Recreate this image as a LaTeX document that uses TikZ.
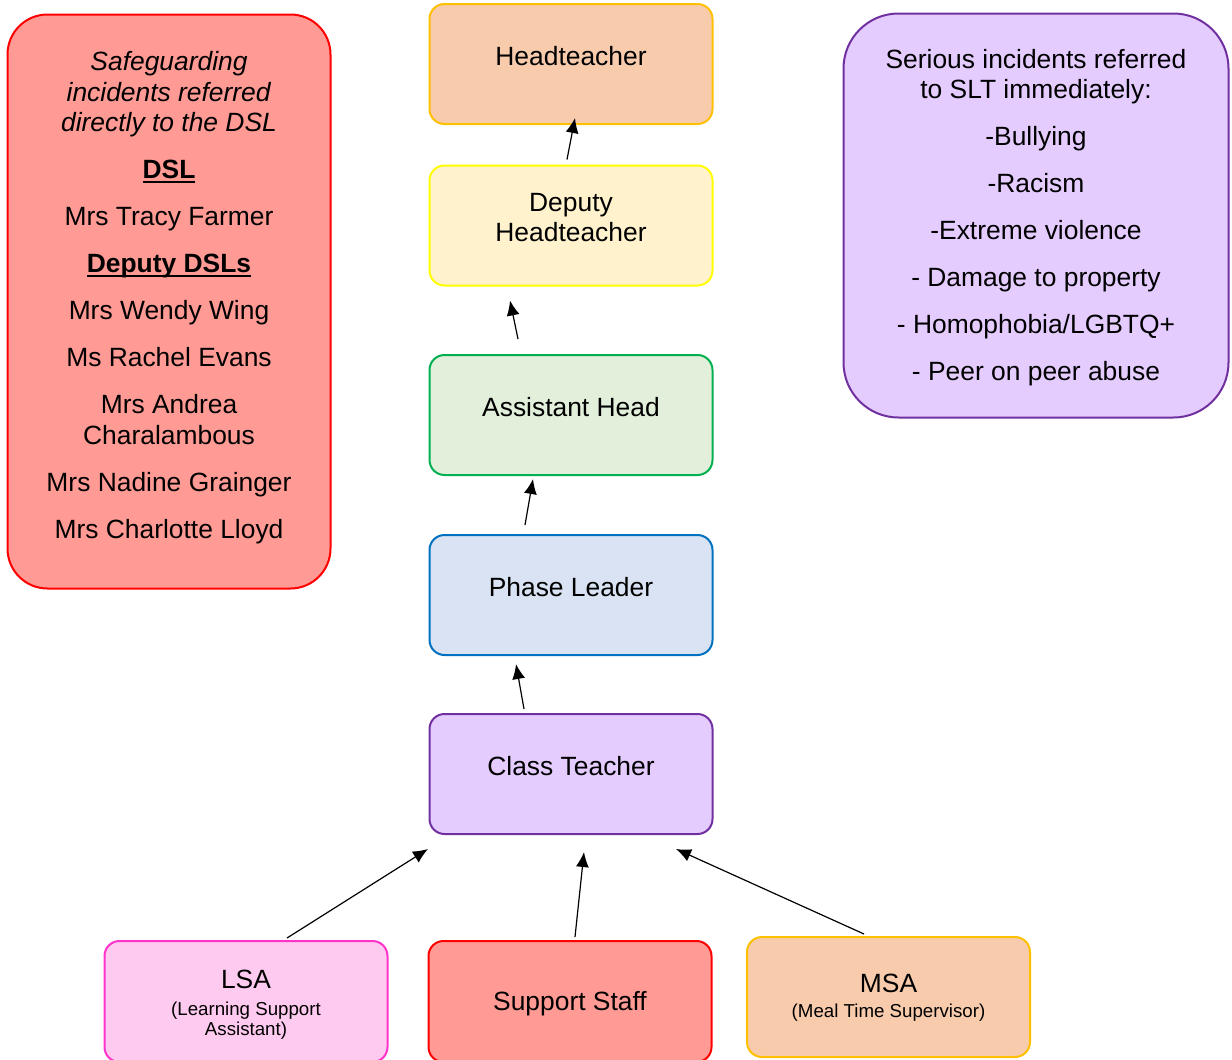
\documentclass[tikz,border=0pt]{standalone}
\usepackage{fontspec}
\setmainfont{Liberation Sans}
\usetikzlibrary{arrows.meta}
\definecolor{headfill}{HTML}{F8CBAD}
\definecolor{headline}{HTML}{FFC000}
\definecolor{depfill}{HTML}{FFF2CC}
\definecolor{depline}{HTML}{FFFF00}
\definecolor{asstfill}{HTML}{E2EFDA}
\definecolor{asstline}{HTML}{00B050}
\definecolor{phasefill}{HTML}{DAE3F3}
\definecolor{phaseline}{HTML}{0070C0}
\definecolor{lilacfill}{HTML}{E5CCFF}
\definecolor{lilacline}{HTML}{7030A0}
\definecolor{redfill}{HTML}{FF9B94}
\definecolor{redline}{HTML}{FF0000}
\definecolor{pinkfill}{HTML}{FFCAF0}
\definecolor{pinkline}{HTML}{FF33CC}
\newcommand{\ulhead}[1]{\setbox0\hbox{\textbf{#1}}\rlap{\rule[-4.5pt]{\wd0}{2pt}}\box0}

\begin{document}
\begin{tikzpicture}[x=1pt, y=-1pt,
    role/.style={rounded corners=15pt, line width=2pt, minimum width=283pt,
      minimum height=120pt, inner sep=0pt, align=center,
      font=\fontsize{26.4}{30.5}\selectfont},
    rolelbl/.style={font=\fontsize{26.4}{30.5}\selectfont, align=center, inner sep=0pt},
    panel/.style={rounded corners=#1, line width=2pt, inner sep=0pt},
    smalltxt/.style={font=\fontsize{18.7}{20}\selectfont},
    flow/.style={-{Latex[length=15pt,width=13pt]}, line width=1.2pt},
  ]
  \useasboundingbox (0,0) rectangle (1232,1060);

  % side panels
  \node[panel=40pt, draw=redline, fill=redfill, minimum width=323pt,
    minimum height=574pt] (dsl) at (169,301.5) {};
  \node[rolelbl] (dsltxt) at ([yshift=4pt]dsl.center)
    {\textit{Safeguarding}\\ \textit{incidents referred}\\ \textit{directly to the DSL}\\[16.5pt]
     \ulhead{DSL}\\[16.5pt]
     Mrs Tracy Farmer\\[16.5pt]
     \ulhead{Deputy DSLs}\\[16.5pt]
     Mrs Wendy Wing\\[16.5pt]
     Ms Rachel Evans\\[16.5pt]
     Mrs Andrea\\ Charalambous\\[16.5pt]
     Mrs Nadine Grainger\\[16.5pt]
     Mrs Charlotte Lloyd};

  \node[panel=55pt, draw=lilacline, fill=lilacfill, minimum width=385pt,
    minimum height=404pt] (slt) at (1036,215.5) {};
  \node[rolelbl] (slttxt) at ([yshift=-2pt]slt.center)
    {Serious incidents referred\\ to SLT immediately:\\[16.5pt]
     -Bullying\\[16.5pt]
     -Racism\\[16.5pt]
     -Extreme violence\\[16.5pt]
     - Damage to property\\[16.5pt]
     - Homophobia/LGBTQ+\\[16.5pt]
     - Peer on peer abuse};

  % chain of referral
  \node[role, draw=headline, fill=headfill] (head) at (571,64) {};
  \node[rolelbl] (headtxt) at ([yshift=8pt]head.center) {Headteacher};
  \node[role, draw=depline, fill=depfill] (dep) at (571,225.5) {};
  \node[rolelbl] (deptxt) at ([yshift=8pt]dep.center) {Deputy\\ Headteacher};
  \node[role, draw=asstline, fill=asstfill] (asst) at (571,415) {};
  \node[rolelbl] (assttxt) at ([yshift=8pt]asst.center) {Assistant Head};
  \node[role, draw=phaseline, fill=phasefill] (phase) at (571,595) {};
  \node[rolelbl] (phasetxt) at ([yshift=8pt]phase.center) {Phase Leader};
  \node[role, draw=lilacline, fill=lilacfill] (cls) at (571,774) {};
  \node[rolelbl] (clstxt) at ([yshift=8pt]cls.center) {Class Teacher};

  % staff
  \node[role, smalltxt, draw=pinkline, fill=pinkfill, minimum height=121pt] (lsa) at (246,1001.5) {};
  \node[rolelbl, smalltxt] (lsatxt) at ([yshift=-3pt]lsa.center)
    {{\fontsize{26.4}{30}\selectfont LSA}\\[7pt] (Learning Support\\ Assistant)};
  \node[role, draw=redline, fill=redfill, minimum height=121pt] (sup) at (570,1001.5) {};
  \node[rolelbl] (suptxt) at ([yshift=-2pt]sup.center) {Support Staff};
  \node[role, draw=headline, fill=headfill] (msa) at (888.5,997) {};
  \node[rolelbl, smalltxt] (msatxt) at ([yshift=-1pt]msa.center)
    {{\fontsize{26.4}{30}\selectfont MSA}\\[5pt] (Meal Time Supervisor)};

  \draw[flow] ([shift={(-4,-5)}]dep.north) -- ([shift={(4,-7)}]head.south);
  \draw[flow] ([shift={(-53,-15)}]asst.north) -- ([shift={(-61,14)}]dep.south);
  \draw[flow] ([shift={(-46,-9)}]phase.north) -- ([shift={(-38,3)}]asst.south);
  \draw[flow] ([shift={(-47,-4)}]cls.north) -- ([shift={(-55,8)}]phase.south);
  \draw[flow] ([shift={(41,-2)}]lsa.north) -- ([shift={(-143,14)}]cls.south);
  \draw[flow] ([shift={(5,-3)}]sup.north) -- ([shift={(13,17)}]cls.south);
  \draw[flow] ([shift={(-24.5,-2)}]msa.north) -- ([shift={(105,14)}]cls.south);
\end{tikzpicture}
\end{document}
